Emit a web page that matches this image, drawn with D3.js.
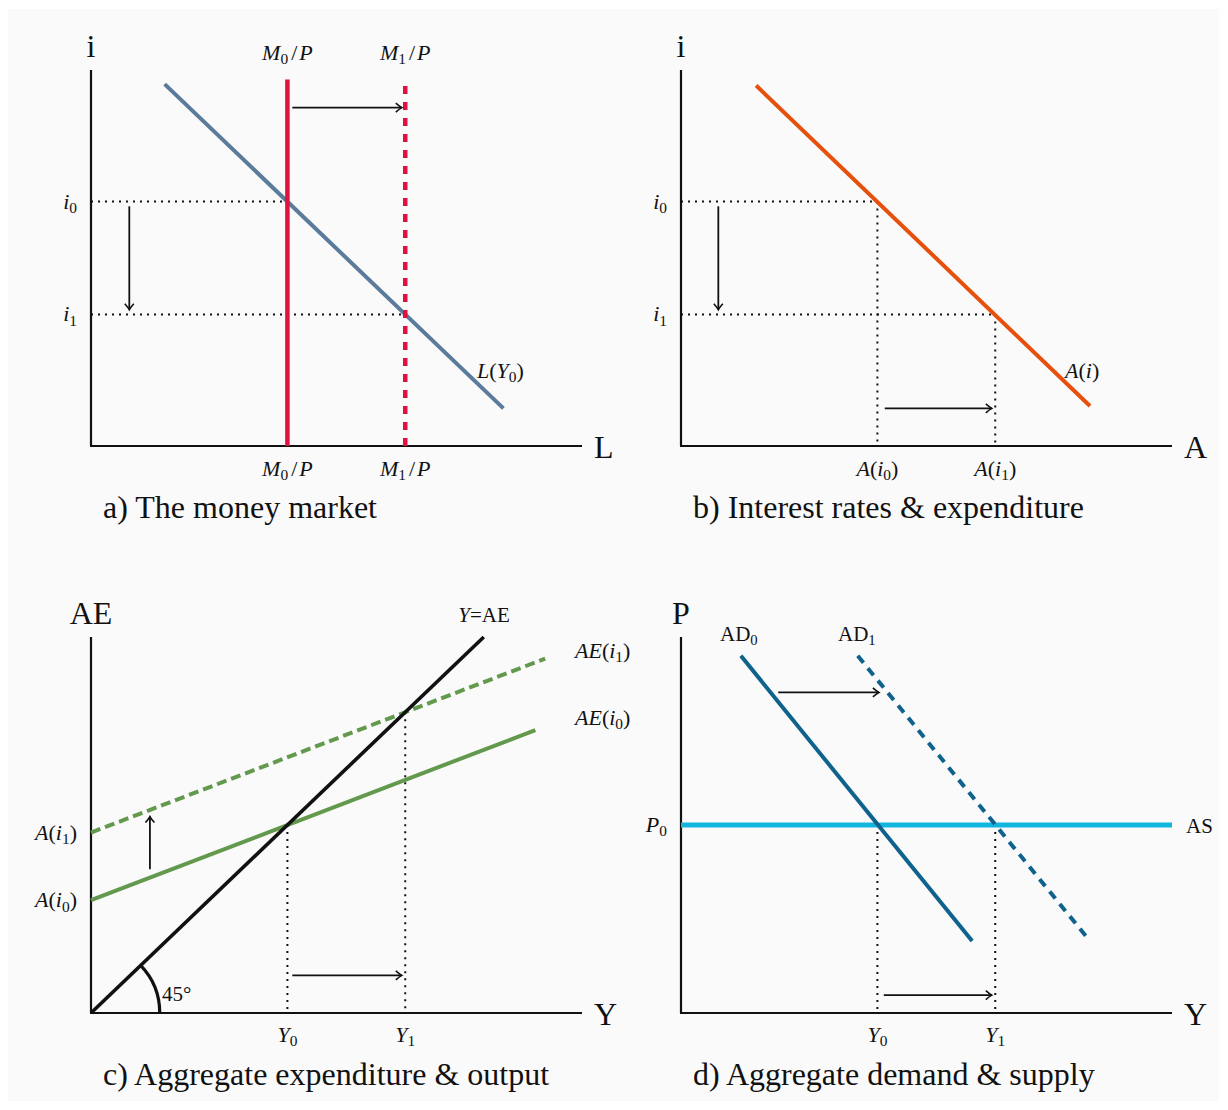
<!DOCTYPE html>
<html>
<head>
<meta charset="utf-8">
<script src="https://cdn.jsdelivr.net/npm/d3@7"></script>
<style>
  html, body { margin: 0; padding: 0; background: #ffffff; }
  svg text { font-family: "Liberation Serif", "Times New Roman", serif; fill: #111; }
</style>
</head>
<body>
<svg id="chart" width="1228" height="1110"></svg>
<script>
// ---------- data (abstract diagram units: x 0..10, y 0..8) ----------
const moneySupply = [4.0, 6.4];                 // M0/P, M1/P
const interestRates = [5.2, 2.8];               // i0, i1
const moneyDemand = [{x: 1.5, y: 7.7}, {x: 8.4, y: 0.8}];       // L(Y0)
const expenditureCurve = [{x: 1.53, y: 7.67}, {x: 8.33, y: 0.85}]; // A(i)
const expenditureLevels = [4.0, 6.4];           // A(i0), A(i1)
const incomeLevels = [4.0, 6.4];                // Y0, Y1
const fortyFiveLine = [{x: 0, y: 0}, {x: 8.0, y: 8.0}];
const aeLow = [{x: 0, y: 2.4}, {x: 9.05, y: 6.02}];   // AE(i0)
const aeHigh = [{x: 0, y: 3.84}, {x: 9.25, y: 7.54}]; // AE(i1)
const priceLevel = 4.0;                         // P0
const ad0 = [{x: 1.22, y: 7.6}, {x: 5.93, y: 1.53}];
const ad1 = [{x: 3.6, y: 7.6}, {x: 8.33, y: 1.53}];
const captions = ["a) The money market", "b) Interest rates & expenditure",
                  "c) Aggregate expenditure & output", "d) Aggregate demand & supply"];

// ---------- setup ----------
const svg = d3.select("#chart");
svg.append("rect").attr("x", 8).attr("y", 9).attr("width", 1211).attr("height", 1092).attr("fill", "#fafafa");

const defs = svg.append("defs");
defs.append("marker").attr("id", "arr").attr("viewBox", "-8 -6 10 12")
  .attr("refX", 0).attr("refY", 0).attr("markerWidth", 10).attr("markerHeight", 12)
  .attr("markerUnits", "userSpaceOnUse").attr("orient", "auto")
  .append("path").attr("d", "M-6,-4.5 Q-2,-1 0,0 Q-2,1 -6,4.5")
  .attr("fill", "none").attr("stroke", "#111").attr("stroke-width", 1.6);

const colors = {
  L: "#5b7b9b", red: "#e2103e", orange: "#e6500c", green: "#62994c",
  ad: "#0e628c", as: "#12b5dd"
};

function makePanel(ox, oy) {
  const x = d3.scaleLinear().domain([0, 10]).range([ox, ox + 491]);
  const y = d3.scaleLinear().domain([0, 8]).range([oy, oy - 376]);
  const g = svg.append("g");
  const line = d3.line().x(d => x(d.x)).y(d => y(d.y));
  return {x, y, g, line};
}

function axes(p, topLabel, rightLabel) {
  p.g.append("line").attr("x1", p.x(0)).attr("y1", p.y(0)).attr("x2", p.x(0)).attr("y2", p.y(8))
    .attr("stroke", "#111").attr("stroke-width", 2.2);
  p.g.append("line").attr("x1", p.x(0) - 1).attr("y1", p.y(0)).attr("x2", p.x(10)).attr("y2", p.y(0))
    .attr("stroke", "#111").attr("stroke-width", 2.2);
  p.g.append("text").attr("x", p.x(0)).attr("y", p.y(8) - 13).attr("text-anchor", "middle")
    .attr("font-size", 32).text(topLabel);
  p.g.append("text").attr("x", p.x(10) + 12).attr("y", p.y(0) + 12)
    .attr("font-size", 32).text(rightLabel);
}

function seg(p, pts, color, width, dash) {
  const s = p.g.append("path").attr("d", p.line(pts)).attr("fill", "none")
    .attr("stroke", color).attr("stroke-width", width);
  if (dash) s.attr("stroke-dasharray", dash);
  return s;
}
function dotted(p, pts) {
  seg(p, pts, "#111", 2, "2 5");
}
function arrow(p, from, to) {
  p.g.append("line").attr("x1", p.x(from.x)).attr("y1", p.y(from.y))
    .attr("x2", p.x(to.x)).attr("y2", p.y(to.y))
    .attr("stroke", "#111").attr("stroke-width", 1.8).attr("marker-end", "url(#arr)");
}

// label built of parts: [text, style] style: 'i' italic, 'n' normal, 's' subscript
function label(p, px, py, parts, size, anchor) {
  const t = p.g.append("text").attr("x", px).attr("y", py).attr("font-size", size)
    .attr("text-anchor", anchor || "middle");
  parts.forEach(([txt, st, dx]) => {
    const ts = t.append("tspan").text(txt);
    if (st === "i") ts.attr("font-style", "italic");
    if (st === "s") ts.attr("font-size", size * 0.7).attr("dy", size * 0.2);
    if (st === "r") ts.attr("dy", -size * 0.2);
    if (dx) ts.attr("dx", dx);
  });
  return t;
}
const FS = 22;

// ---------- Panel a: money market ----------
const pa = makePanel(91, 446);
axes(pa, "i", "L");
dotted(pa, [{x: 0, y: interestRates[0]}, {x: moneySupply[0], y: interestRates[0]}]);
dotted(pa, [{x: 0, y: interestRates[1]}, {x: moneySupply[1], y: interestRates[1]}]);
seg(pa, moneyDemand, colors.L, 4);
seg(pa, [{x: moneySupply[0], y: 0}, {x: moneySupply[0], y: 7.8}], colors.red, 4.5);
seg(pa, [{x: moneySupply[1], y: 0}, {x: moneySupply[1], y: 7.8}], colors.red, 4.5, "8 8");
arrow(pa, {x: 4.1, y: 7.2}, {x: 6.33, y: 7.2});
arrow(pa, {x: 0.78, y: 5.1}, {x: 0.78, y: 2.9});
["0", "1"].forEach((k, j) => {
  const mx = pa.x(moneySupply[j]);
  const parts = [["M", "i"], [k, "s"], ["/", "r", 3], ["P", "i", 2]];
  label(pa, mx, 60, parts, FS);
  label(pa, mx, 476, parts, FS);
  label(pa, 77, pa.y(interestRates[j]) + 7, [["i", "i"], [k, "s"]], FS, "end");
});
label(pa, 477, 378, [["L", "i"], ["(", "n"], ["Y", "i"], ["0", "s"], [")", "r"]], FS, "start");
pa.g.append("text").attr("x", 103).attr("y", 518).attr("font-size", 32).text(captions[0]);

// ---------- Panel b: interest rates & expenditure ----------
const pb = makePanel(681, 446);
axes(pb, "i", "A");
[0, 1].forEach(j => {
  dotted(pb, [{x: 0, y: interestRates[j]}, {x: expenditureLevels[j], y: interestRates[j]}]);
  dotted(pb, [{x: expenditureLevels[j], y: interestRates[j]}, {x: expenditureLevels[j], y: 0}]);
  label(pb, 667, pb.y(interestRates[j]) + 7, [["i", "i"], [String(j), "s"]], FS, "end");
  label(pb, pb.x(expenditureLevels[j]), 476, [["A", "i"], ["(", "n"], ["i", "i"], [String(j), "s"], [")", "r"]], FS);
});
seg(pb, expenditureCurve, colors.orange, 4);
arrow(pb, {x: 4.15, y: 0.8}, {x: 6.33, y: 0.8});
arrow(pb, {x: 0.76, y: 5.1}, {x: 0.76, y: 2.9});
label(pb, 1065, 378, [["A", "i"], ["(", "n"], ["i", "i"], [")", "n"]], FS, "start");
pb.g.append("text").attr("x", 693).attr("y", 518).attr("font-size", 32).text(captions[1]);

// ---------- Panel c: aggregate expenditure & output ----------
const pc = makePanel(91, 1013);
axes(pc, "AE", "Y");
[0, 1].forEach(j => {
  dotted(pc, [{x: incomeLevels[j], y: incomeLevels[j]}, {x: incomeLevels[j], y: 0}]);
  label(pc, pc.x(incomeLevels[j]), 1042, [["Y", "i"], [String(j), "s"]], FS);
});
seg(pc, aeLow, colors.green, 4);
seg(pc, aeHigh, colors.green, 4, "10 5");
seg(pc, fortyFiveLine, "#111", 3.6);
// 45 degree arc
{
  const r = pc.x(1.4) - pc.x(0);
  const ang = Math.atan2(pc.y(0) - pc.y(8), pc.x(8) - pc.x(0));
  const x0 = pc.x(0), y0 = pc.y(0);
  pc.g.append("path")
    .attr("d", `M${x0 + r},${y0} A${r},${r} 0 0 0 ${x0 + r * Math.cos(ang)},${y0 - r * Math.sin(ang)}`)
    .attr("fill", "none").attr("stroke", "#111").attr("stroke-width", 3.2);
}
arrow(pc, {x: 4.1, y: 0.8}, {x: 6.33, y: 0.8});
arrow(pc, {x: 1.2, y: 3.06}, {x: 1.2, y: 4.18});
label(pc, 162, 1001, [["45°", "n"]], 21, "start");
label(pc, 77, pc.y(aeHigh[0].y) + 7, [["A", "i"], ["(", "n"], ["i", "i"], ["1", "s"], [")", "r"]], FS, "end");
label(pc, 77, pc.y(aeLow[0].y) + 7, [["A", "i"], ["(", "n"], ["i", "i"], ["0", "s"], [")", "r"]], FS, "end");
label(pc, 484, 622, [["Y", "i"], ["=AE", "n"]], 21);
label(pc, 575, 658, [["AE", "i"], ["(", "n"], ["i", "i"], ["1", "s"], [")", "r"]], FS, "start");
label(pc, 575, 725, [["AE", "i"], ["(", "n"], ["i", "i"], ["0", "s"], [")", "r"]], FS, "start");
pc.g.append("text").attr("x", 103).attr("y", 1085).attr("font-size", 32).text(captions[2]);

// ---------- Panel d: aggregate demand & supply ----------
const pd = makePanel(681, 1013);
axes(pd, "P", "Y");
[0, 1].forEach(j => {
  dotted(pd, [{x: incomeLevels[j], y: priceLevel}, {x: incomeLevels[j], y: 0}]);
  label(pd, pd.x(incomeLevels[j]), 1042, [["Y", "i"], [String(j), "s"]], FS);
});
seg(pd, [{x: 0, y: priceLevel}, {x: 10, y: priceLevel}], colors.as, 5);
seg(pd, ad0, colors.ad, 4);
seg(pd, ad1, colors.ad, 4, "9 7");
arrow(pd, {x: 1.98, y: 6.82}, {x: 4.03, y: 6.82});
arrow(pd, {x: 4.13, y: 0.38}, {x: 6.33, y: 0.38});
label(pd, 667, pd.y(priceLevel) + 7, [["P", "i"], ["0", "s"]], FS, "end");
label(pd, 1186, pd.y(priceLevel) + 8, [["AS", "n"]], 21, "start");
label(pd, 720, 641, [["AD", "n"], ["0", "s"]], 21, "start");
label(pd, 838, 641, [["AD", "n"], ["1", "s"]], 21, "start");
pd.g.append("text").attr("x", 693).attr("y", 1085).attr("font-size", 32).text(captions[3]);
</script>
</body>
</html>
